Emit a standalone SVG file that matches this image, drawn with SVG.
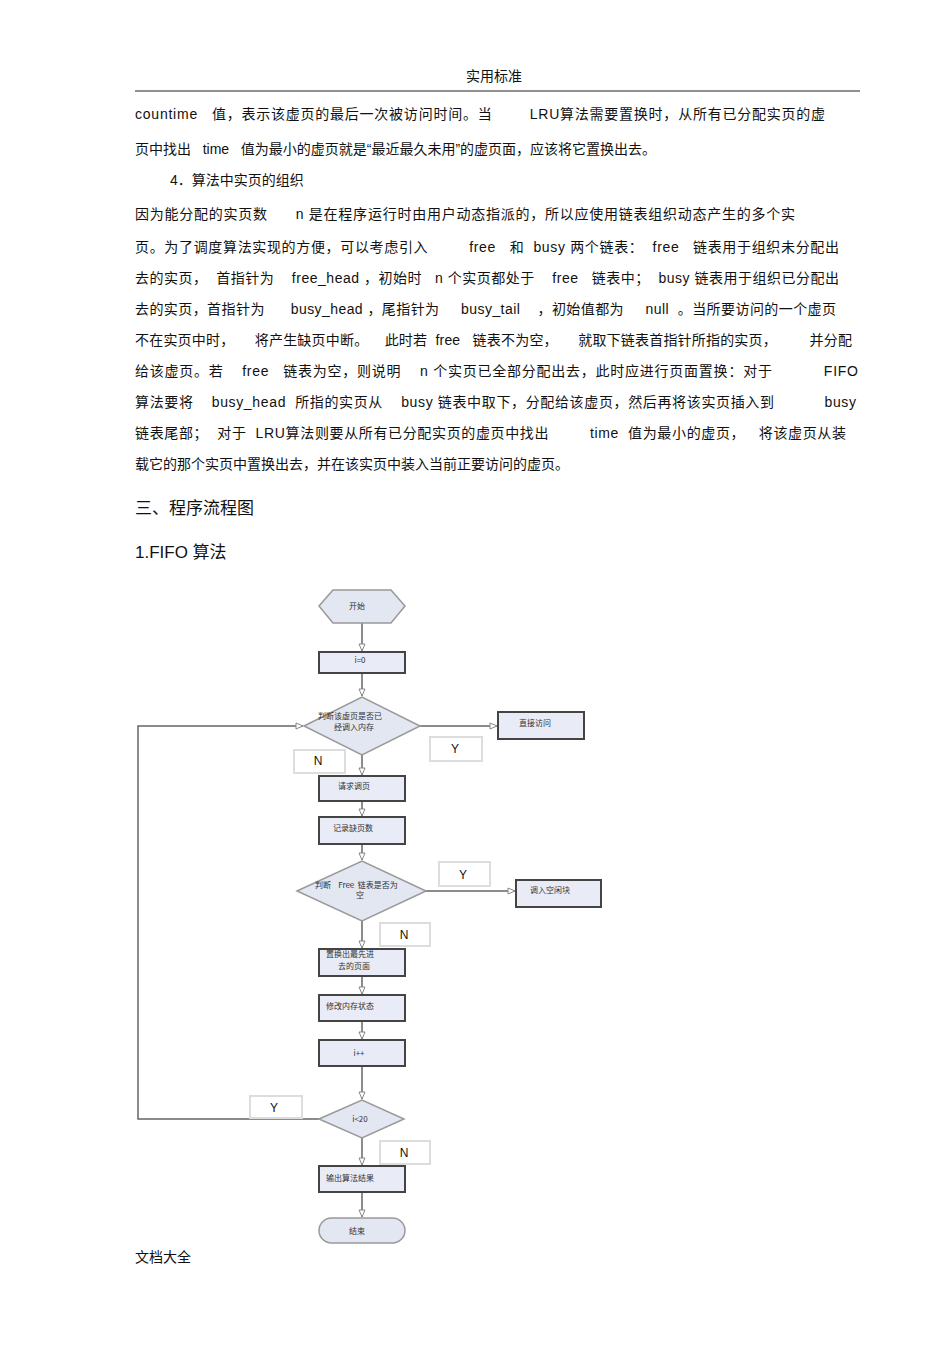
<svg xmlns="http://www.w3.org/2000/svg" width="950" height="1345" viewBox="0 0 950 1345" xml:space="preserve">
<style>
.b{font-family:"Liberation Sans","Noto Sans CJK SC",sans-serif;font-size:14px;fill:#111;white-space:pre}
.h{font-family:"Liberation Sans","Noto Sans CJK SC",sans-serif;font-size:17px;fill:#111}
.n{font-family:"Noto Sans CJK SC",sans-serif;font-size:8px;fill:#333;white-space:pre}
.l{font-family:"Liberation Sans",sans-serif;font-size:12px;fill:#111;text-anchor:middle}
.r{fill:#e9ecf6;stroke:#444;stroke-width:2}
.d{fill:#e3e7f2;stroke:#999;stroke-width:1.5}
.lb{fill:#fff;stroke:#ddd;stroke-width:2}
.c{fill:none;stroke:#666;stroke-width:1.5}
</style>
<defs>
<marker id="a" markerWidth="10" markerHeight="10" refX="8" refY="4" orient="auto" markerUnits="userSpaceOnUse">
<path d="M1,1 L8,4 L1,7 Z" fill="#fff" stroke="#888" stroke-width="1"/>
</marker>
</defs>
<rect width="950" height="1345" fill="#fff"/>
<text class="b" x="494" y="81" text-anchor="middle" font-size="13">实用标准</text>
<line x1="135" y1="91" x2="860" y2="91" stroke="#222" stroke-width="1"/>
<g id="body">
<text class="b" x="135" y="119" textLength="690" lengthAdjust="spacing">countime   值，表示该虚页的最后一次被访问时间。当        LRU算法需要置换时，从所有已分配实页的虚</text>
<text class="b" x="135" y="154">页中找出   time   值为最小的虚页就是“最近最久未用”的虚页面，应该将它置换出去。</text>
<text class="b" x="170" y="185">4．算法中实页的组织</text>
<text class="b" x="135" y="219" textLength="660" lengthAdjust="spacing">因为能分配的实页数      n 是在程序运行时由用户动态指派的，所以应使用链表组织动态产生的多个实</text>
<text class="b" x="135" y="252" textLength="704" lengthAdjust="spacing">页。为了调度算法实现的方便，可以考虑引入         free   和  busy 两个链表：  free   链表用于组织未分配出</text>
<text class="b" x="135" y="283" textLength="704" lengthAdjust="spacing">去的实页，  首指针为    free_head ，初始时   n 个实页都处于    free   链表中；  busy 链表用于组织已分配出</text>
<text class="b" x="135" y="314" textLength="701" lengthAdjust="spacing">去的实页，首指针为      busy_head ，尾指针为     busy_tail    ，初始值都为     null  。当所要访问的一个虚页</text>
<text class="b" x="135" y="345" textLength="717" lengthAdjust="spacing">不在实页中时，     将产生缺页中断。    此时若  free   链表不为空，     就取下链表首指针所指的实页，        并分配</text>
<text class="b" x="135" y="376" textLength="723" lengthAdjust="spacing">给该虚页。若    free   链表为空，则说明    n 个实页已全部分配出去，此时应进行页面置换：对于           FIFO</text>
<text class="b" x="135" y="407" textLength="721" lengthAdjust="spacing">算法要将    busy_head  所指的实页从    busy 链表中取下，分配给该虚页，然后再将该实页插入到           busy</text>
<text class="b" x="135" y="438" textLength="711" lengthAdjust="spacing">链表尾部；  对于  LRU算法则要从所有已分配实页的虚页中找出         time  值为最小的虚页，   将该虚页从装</text>
<text class="b" x="135" y="469">载它的那个实页中置换出去，并在该实页中装入当前正要访问的虚页。</text>
</g>
<text class="h" x="135" y="514">三、程序流程图</text>
<text class="h" x="135" y="558">1.FIFO 算法</text>
<text class="b" x="135" y="1262">文档大全</text>

<g id="connectors">
<line class="c" x1="362" y1="623" x2="362" y2="651" marker-end="url(#a)"/>
<line class="c" x1="362" y1="673" x2="362" y2="696" marker-end="url(#a)"/>
<line class="c" x1="420" y1="726" x2="497" y2="726" marker-end="url(#a)" stroke="#333"/>
<line class="c" x1="362" y1="755" x2="362" y2="775" marker-end="url(#a)"/>
<line class="c" x1="362" y1="801" x2="362" y2="816" marker-end="url(#a)"/>
<line class="c" x1="362" y1="844" x2="362" y2="860" marker-end="url(#a)"/>
<line class="c" x1="426" y1="891" x2="515" y2="891" marker-end="url(#a)"/>
<line class="c" x1="362" y1="921" x2="362" y2="948" marker-end="url(#a)"/>
<line class="c" x1="362" y1="976" x2="362" y2="994" marker-end="url(#a)"/>
<line class="c" x1="362" y1="1021" x2="362" y2="1039" marker-end="url(#a)"/>
<line class="c" x1="362" y1="1066" x2="362" y2="1099" marker-end="url(#a)"/>
<line class="c" x1="362" y1="1138" x2="362" y2="1165" marker-end="url(#a)"/>
<line class="c" x1="362" y1="1192" x2="362" y2="1217" marker-end="url(#a)"/>
<polyline class="c" points="319,1119 138,1119 138,726 303,726" stroke="#333" marker-end="url(#a)"/>
</g>
<g id="lY1"><rect class="lb" x="430" y="737" width="52" height="24"/><text class="l" x="455" y="753">Y</text></g>
<g id="lN1"><rect class="lb" x="294" y="750" width="51" height="23"/><text class="l" x="318" y="765">N</text></g>
<g id="lY2"><rect class="lb" x="439" y="862" width="51" height="24"/><text class="l" x="463" y="879">Y</text></g>
<g id="lN2"><rect class="lb" x="380" y="923" width="50" height="23"/><text class="l" x="404" y="939">N</text></g>
<g id="lY3"><rect class="lb" x="250" y="1096" width="52" height="22"/><text class="l" x="274" y="1112">Y</text></g>
<g id="lN3"><rect class="lb" x="380" y="1141" width="50" height="23"/><text class="l" x="404" y="1157">N</text></g>

<g id="start"><polygon class="d" points="319,606 333,590 391,590 405,606 391,623 333,623"/><text class="n" x="357" y="609" text-anchor="middle" font-size="9">开始</text></g>
<g id="i0"><rect class="r" x="319" y="652" width="86" height="21"/><text class="n" x="360" y="663" text-anchor="middle">i=0</text></g>
<g id="dec1"><polygon class="d" points="304,726 362,697 420,726 362,755"/><text class="n" x="318" y="719" font-size="7">判断该虚页是否已</text><text class="n" x="334" y="730" font-size="7">经调入内存</text></g>
<g id="direct"><rect class="r" x="498" y="712" width="86" height="27"/><text class="n" x="519" y="726">直接访问</text></g>
<g id="req"><rect class="r" x="319" y="776" width="86" height="25"/><text class="n" x="338" y="789">请求调页</text></g>
<g id="rec"><rect class="r" x="319" y="817" width="86" height="27"/><text class="n" x="333" y="831">记录缺页数</text></g>
<g id="dec2"><polygon class="d" points="297,891 362,861 426,891 362,921"/><text class="n" x="315" y="888" font-size="7">判断    Free  链表是否为</text><text class="n" x="360" y="898" font-size="7" text-anchor="middle">空</text></g>
<g id="load"><rect class="r" x="516" y="880" width="85" height="27"/><text class="n" x="530" y="893">调入空闲块</text></g>
<g id="rep"><rect class="r" x="319" y="949" width="86" height="27"/><text class="n" x="326" y="957">置换出最先进</text><text class="n" x="338" y="969">去的页面</text></g>
<g id="mod"><rect class="r" x="319" y="995" width="86" height="26"/><text class="n" x="326" y="1009">修改内存状态</text></g>
<g id="inc"><rect class="r" x="319" y="1040" width="86" height="26"/><text class="n" x="359" y="1056" text-anchor="middle">i++</text></g>
<g id="dec3"><polygon class="d" points="319,1119 362,1100 404,1119 362,1138"/><text class="n" x="360" y="1122" text-anchor="middle">i&lt;20</text></g>
<g id="out"><rect class="r" x="319" y="1166" width="86" height="26"/><text class="n" x="326" y="1181">输出算法结果</text></g>
<g id="end"><rect class="d" x="319" y="1218" width="86" height="25" rx="12.5"/><text class="n" x="357" y="1234" text-anchor="middle" font-size="9">结束</text></g>
</svg>
